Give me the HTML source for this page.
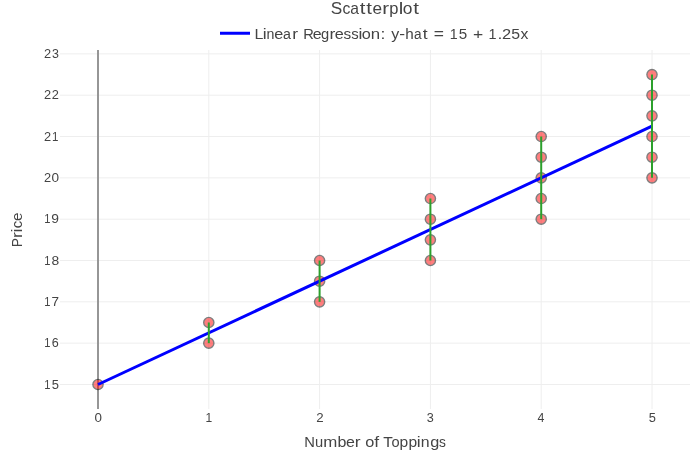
<!DOCTYPE html>
<html><head><meta charset="utf-8"><title>Scatterplot</title>
<style>
html,body{margin:0;padding:0;background:#ffffff;}
body{width:700px;height:450px;overflow:hidden;font-family:"Liberation Sans",sans-serif;}
svg{display:block;}
svg text{font-family:"Liberation Sans",sans-serif;}
</style></head><body>
<svg width="700" height="450" viewBox="0 0 700 450">
<rect x="0" y="0" width="700" height="450" fill="#ffffff"/>
<g stroke="#eeeeee" stroke-width="1" fill="none"><line x1="208.80" x2="208.80" y1="50" y2="409"/><line x1="319.60" x2="319.60" y1="50" y2="409"/><line x1="430.40" x2="430.40" y1="50" y2="409"/><line x1="541.20" x2="541.20" y1="50" y2="409"/><line x1="652.00" x2="652.00" y1="50" y2="409"/><line x1="60" x2="690" y1="384.50" y2="384.50"/><line x1="60" x2="690" y1="343.17" y2="343.17"/><line x1="60" x2="690" y1="301.84" y2="301.84"/><line x1="60" x2="690" y1="260.51" y2="260.51"/><line x1="60" x2="690" y1="219.18" y2="219.18"/><line x1="60" x2="690" y1="177.85" y2="177.85"/><line x1="60" x2="690" y1="136.52" y2="136.52"/><line x1="60" x2="690" y1="95.19" y2="95.19"/><line x1="60" x2="690" y1="53.86" y2="53.86"/></g>
<line x1="98.00" x2="98.00" y1="50" y2="409" stroke="#969696" stroke-width="2"/>
<g fill="#ff0000" stroke="#000000" stroke-width="1.4"><circle cx="98.00" cy="384.50" r="5.1" opacity="0.5"/><circle cx="208.80" cy="343.17" r="5.1" opacity="0.5"/><circle cx="208.80" cy="322.50" r="5.1" opacity="0.5"/><circle cx="319.60" cy="301.84" r="5.1" opacity="0.5"/><circle cx="319.60" cy="281.18" r="5.1" opacity="0.5"/><circle cx="319.60" cy="260.51" r="5.1" opacity="0.5"/><circle cx="430.40" cy="260.51" r="5.1" opacity="0.5"/><circle cx="430.40" cy="239.84" r="5.1" opacity="0.5"/><circle cx="430.40" cy="219.18" r="5.1" opacity="0.5"/><circle cx="430.40" cy="198.52" r="5.1" opacity="0.5"/><circle cx="541.20" cy="219.18" r="5.1" opacity="0.5"/><circle cx="541.20" cy="198.52" r="5.1" opacity="0.5"/><circle cx="541.20" cy="177.85" r="5.1" opacity="0.5"/><circle cx="541.20" cy="157.19" r="5.1" opacity="0.5"/><circle cx="541.20" cy="136.52" r="5.1" opacity="0.5"/><circle cx="652.00" cy="177.85" r="5.1" opacity="0.5"/><circle cx="652.00" cy="157.19" r="5.1" opacity="0.5"/><circle cx="652.00" cy="136.52" r="5.1" opacity="0.5"/><circle cx="652.00" cy="115.86" r="5.1" opacity="0.5"/><circle cx="652.00" cy="95.19" r="5.1" opacity="0.5"/><circle cx="652.00" cy="74.53" r="5.1" opacity="0.5"/></g>
<line x1="98.00" y1="384.50" x2="652.00" y2="126.19" stroke="#0000ff" stroke-width="3"/>
<g stroke="#2ca02c" stroke-width="2"><line x1="208.80" x2="208.80" y1="343.17" y2="322.50"/><line x1="319.60" x2="319.60" y1="301.84" y2="260.51"/><line x1="430.40" x2="430.40" y1="260.51" y2="198.52"/><line x1="541.20" x2="541.20" y1="219.18" y2="136.52"/><line x1="652.00" x2="652.00" y1="177.85" y2="74.53"/></g>
<line x1="220" x2="250" y1="33.25" y2="33.25" stroke="#0000ff" stroke-width="3"/>
<g opacity="0.999" fill="#444444">
<g><text transform="matrix(0.1111 0 0 0.1272 44.356 389.000)" font-size="100">1</text><text transform="matrix(0.1297 0 0 0.1272 51.631 389.000)" font-size="100">5</text></g>
<g><text transform="matrix(0.1111 0 0 0.1272 44.356 347.000)" font-size="100">1</text><text transform="matrix(0.1258 0 0 0.1272 51.858 347.000)" font-size="100">6</text></g>
<g><text transform="matrix(0.1111 0 0 0.1272 44.356 306.000)" font-size="100">1</text><text transform="matrix(0.1352 0 0 0.1272 51.461 306.000)" font-size="100">7</text></g>
<g><text transform="matrix(0.1111 0 0 0.1272 44.356 265.000)" font-size="100">1</text><text transform="matrix(0.1383 0 0 0.1272 51.405 265.000)" font-size="100">8</text></g>
<g><text transform="matrix(0.1111 0 0 0.1272 44.356 223.000)" font-size="100">1</text><text transform="matrix(0.1385 0 0 0.1272 51.349 223.000)" font-size="100">9</text></g>
<g><text transform="matrix(0.1283 0 0 0.1272 44.009 182.000)" font-size="100">2</text><text transform="matrix(0.1360 0 0 0.1272 51.470 182.000)" font-size="100">0</text></g>
<g><text transform="matrix(0.1283 0 0 0.1272 44.009 141.000)" font-size="100">2</text><text transform="matrix(0.1157 0 0 0.1272 52.020 141.000)" font-size="100">1</text></g>
<g><text transform="matrix(0.1283 0 0 0.1272 44.009 99.000)" font-size="100">2</text><text transform="matrix(0.1283 0 0 0.1272 51.659 99.000)" font-size="100">2</text></g>
<g><text transform="matrix(0.1283 0 0 0.1272 44.009 58.000)" font-size="100">2</text><text transform="matrix(0.1245 0 0 0.1272 51.927 58.000)" font-size="100">3</text></g>
<text transform="matrix(0.1339 0 0 0.1272 94.478 422.000)" font-size="100">0</text>
<text transform="matrix(0.1204 0 0 0.1272 205.385 422.000)" font-size="100">1</text>
<text transform="matrix(0.1327 0 0 0.1272 316.137 422.000)" font-size="100">2</text>
<text transform="matrix(0.1266 0 0 0.1272 426.669 422.000)" font-size="100">3</text>
<text transform="matrix(0.1240 0 0 0.1272 537.615 422.000)" font-size="100">4</text>
<text transform="matrix(0.1287 0 0 0.1272 648.635 422.000)" font-size="100">5</text>
<g><text transform="matrix(0.1719 0 0 0.1737 330.727 13.750)" font-size="100">S</text><text transform="matrix(0.1574 0 0 0.1737 342.539 13.750)" font-size="100">c</text><text transform="matrix(0.1563 0 0 0.1737 350.236 13.750)" font-size="100">a</text><text transform="matrix(0.2039 0 0 0.1737 359.774 13.750)" font-size="100">t</text><text transform="matrix(0.2039 0 0 0.1737 366.274 13.750)" font-size="100">t</text><text transform="matrix(0.1723 0 0 0.1737 372.476 13.750)" font-size="100">e</text><text transform="matrix(0.2050 0 0 0.1737 382.265 13.750)" font-size="100">r</text><text transform="matrix(0.1649 0 0 0.1737 389.125 13.750)" font-size="100">p</text><text transform="matrix(0.2050 0 0 0.1737 398.815 13.750)" font-size="100">l</text><text transform="matrix(0.1737 0 0 0.1737 402.870 13.750)" font-size="100">o</text><text transform="matrix(0.2050 0 0 0.1737 413.359 13.750)" font-size="100">t</text></g>
<g><text transform="matrix(0.1592 0 0 0.1483 254.575 38.850)" font-size="100">L</text><text transform="matrix(0.1749 0 0 0.1483 262.758 38.850)" font-size="100">i</text><text transform="matrix(0.1421 0 0 0.1483 266.442 38.850)" font-size="100">n</text><text transform="matrix(0.1617 0 0 0.1483 274.321 38.850)" font-size="100">e</text><text transform="matrix(0.1424 0 0 0.1483 283.002 38.850)" font-size="100">a</text><text transform="matrix(0.1749 0 0 0.1483 292.340 38.850)" font-size="100">r</text> <text transform="matrix(0.1468 0 0 0.1483 303.176 38.850)" font-size="100">R</text><text transform="matrix(0.1596 0 0 0.1483 312.730 38.850)" font-size="100">e</text><text transform="matrix(0.1471 0 0 0.1483 320.982 38.850)" font-size="100">g</text><text transform="matrix(0.1749 0 0 0.1483 329.490 38.850)" font-size="100">r</text><text transform="matrix(0.1617 0 0 0.1483 334.821 38.850)" font-size="100">e</text><text transform="matrix(0.1537 0 0 0.1483 343.470 38.850)" font-size="100">s</text><text transform="matrix(0.1491 0 0 0.1483 351.183 38.850)" font-size="100">s</text><text transform="matrix(0.1749 0 0 0.1483 358.408 38.850)" font-size="100">i</text><text transform="matrix(0.1631 0 0 0.1483 361.815 38.850)" font-size="100">o</text><text transform="matrix(0.1680 0 0 0.1483 370.671 38.850)" font-size="100">n</text><text transform="matrix(0.1749 0 0 0.1483 380.518 38.850)" font-size="100">:</text> <text transform="matrix(0.1601 0 0 0.1483 391.148 38.850)" font-size="100">y</text><text transform="matrix(0.1749 0 0 0.1483 399.237 38.850)" font-size="100">-</text><text transform="matrix(0.1526 0 0 0.1483 405.127 38.850)" font-size="100">h</text><text transform="matrix(0.1366 0 0 0.1483 414.026 38.850)" font-size="100">a</text><text transform="matrix(0.1749 0 0 0.1483 422.688 38.850)" font-size="100">t</text> <text transform="matrix(0.1749 0 0 0.1483 433.742 38.850)" font-size="100">=</text> <text transform="matrix(0.1421 0 0 0.1483 449.800 38.850)" font-size="100">1</text><text transform="matrix(0.1519 0 0 0.1483 458.692 38.850)" font-size="100">5</text> <text transform="matrix(0.1749 0 0 0.1483 473.092 38.850)" font-size="100">+</text> <text transform="matrix(0.1444 0 0 0.1483 488.582 38.850)" font-size="100">1</text><text transform="matrix(0.1749 0 0 0.1483 497.418 38.850)" font-size="100">.</text><text transform="matrix(0.1645 0 0 0.1483 502.078 38.850)" font-size="100">2</text><text transform="matrix(0.1582 0 0 0.1483 511.167 38.850)" font-size="100">5</text><text transform="matrix(0.1577 0 0 0.1483 520.406 38.850)" font-size="100">x</text></g>
<g><text transform="matrix(0.1474 0 0 0.1483 304.371 446.850)" font-size="100">N</text><text transform="matrix(0.1468 0 0 0.1483 314.926 446.850)" font-size="100">u</text><text transform="matrix(0.1689 0 0 0.1483 323.365 446.850)" font-size="100">m</text><text transform="matrix(0.1604 0 0 0.1483 337.553 446.850)" font-size="100">b</text><text transform="matrix(0.1596 0 0 0.1483 346.030 446.850)" font-size="100">e</text><text transform="matrix(0.1749 0 0 0.1483 354.640 446.850)" font-size="100">r</text> <text transform="matrix(0.1631 0 0 0.1483 365.215 446.850)" font-size="100">o</text><text transform="matrix(0.1749 0 0 0.1483 374.268 446.850)" font-size="100">f</text> <text transform="matrix(0.1562 0 0 0.1483 383.336 446.850)" font-size="100">T</text><text transform="matrix(0.1462 0 0 0.1483 391.386 446.850)" font-size="100">o</text><text transform="matrix(0.1560 0 0 0.1483 399.482 446.850)" font-size="100">p</text><text transform="matrix(0.1560 0 0 0.1483 408.482 446.850)" font-size="100">p</text><text transform="matrix(0.1749 0 0 0.1483 416.858 446.850)" font-size="100">i</text><text transform="matrix(0.1586 0 0 0.1483 420.733 446.850)" font-size="100">n</text><text transform="matrix(0.1627 0 0 0.1483 430.217 446.850)" font-size="100">g</text><text transform="matrix(0.1376 0 0 0.1483 439.115 446.850)" font-size="100">s</text></g>
<g><text transform="translate(22.05 246) rotate(-90) matrix(0.1334 0 0 0.1483 -1.035 0.000)" font-size="100">P</text><text transform="translate(22.05 246) rotate(-90) matrix(0.1749 0 0 0.1483 7.890 0.000)" font-size="100">r</text><text transform="translate(22.05 246) rotate(-90) matrix(0.1749 0 0 0.1483 13.508 0.000)" font-size="100">i</text><text transform="translate(22.05 246) rotate(-90) matrix(0.1481 0 0 0.1483 17.678 0.000)" font-size="100">c</text><text transform="translate(22.05 246) rotate(-90) matrix(0.1532 0 0 0.1483 24.957 0.000)" font-size="100">e</text></g>
</g>
</svg>
</body></html>
